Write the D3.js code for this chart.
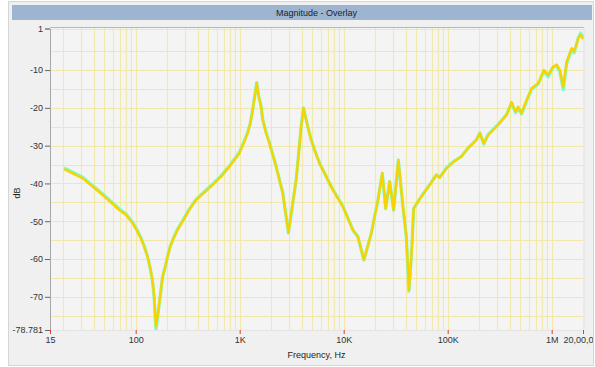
<!DOCTYPE html>
<html>
<head>
<meta charset="utf-8">
<script src="https://cdn.jsdelivr.net/npm/d3@7/dist/d3.min.js"></script>
<style>
  html, body { margin: 0; padding: 0; background: #fff; }
  svg { display: block; font-family: "Liberation Sans", Arial, sans-serif; }
  .tick text { fill: #333; font-size: 9px; }
</style>
</head>
<body>
<svg id="chart" width="595" height="367"></svg>
<script>
/* Magnitude overlay: two nearly identical FRF traces, log frequency axis. */
var freqHz = [
  20.5, 30.7, 47.9, 69.3, 80.4, 93.1, 101.7, 112, 120.7, 130,
  136.9, 143, 147.3, 150.6, 156.4, 162.1, 168.3, 174.8, 181, 192.3,
  202, 215, 235, 252.6, 282, 327.4, 380, 456.6, 549, 661.3,
  795, 888.5, 992, 1109, 1193, 1267, 1333, 1457, 1523, 1606,
  1664, 1795, 1931, 2240, 2410, 2594, 2797, 2943, 3237, 3490,
  3616, 3900, 4106, 4515, 4869, 5239, 5853, 7862, 9813, 12250,
  13690, 15640, 18420, 21330, 23520, 25310, 27650, 30210, 33540, 37140,
  40050, 42420, 44740, 47090, 55850, 67140, 77900, 83800, 97250, 112600,
  135600, 157000, 189100, 203500, 222500, 244700, 305400, 368100, 411200, 449500,
  476100, 513300, 573500, 640600, 741800, 841800, 926000, 1034000, 1116000, 1200000,
  1292000, 1392000, 1556000, 1648000, 1802000, 1900000, 2000000
];
// yellow trace (drawn on top)
var magYellow = [
  -36.2, -38.6, -43.0, -47.0, -48.3, -50.5, -52.3, -54.5, -56.7, -59.4,
  -62.0, -64.7, -67.3, -70.0, -77.8, -75.2, -71.7, -68.2, -64.7, -62.0,
  -59.4, -56.7, -54.1, -52.3, -50.1, -47.0, -44.4, -42.4, -40.4, -38.2,
  -35.6, -33.8, -32.0, -28.9, -26.7, -24.1, -20.6, -13.5, -17.0, -19.7,
  -23.2, -26.7, -29.4, -35.6, -39.1, -42.6, -48.8, -53.0, -45.2, -39.1,
  -34.7, -25.0, -20.1, -25.0, -28.5, -31.1, -34.7, -41.7, -46.1, -52.3,
  -54.1, -60.2, -53.2, -44.4, -37.3, -46.6, -39.5, -47.0, -33.8, -46.1,
  -54.1, -68.2, -59.4, -46.6, -43.5, -40.4, -37.8, -38.5, -36.0, -34.4,
  -32.9, -30.7, -28.5, -26.7, -29.4, -27.2, -24.5, -21.9, -18.5, -21.0,
  -19.7, -21.4, -17.9, -14.8, -13.5, -10.0, -11.3, -9.1, -8.5, -10.0,
  -14.4, -7.8, -4.2, -5.0, -1.6, -0.7, -1.8
];
// green trace (underneath, peeks out at the edges)
var magGreen = [
  -35.9, -38.3, -42.7, -46.7, -48.0, -50.2, -52.0, -54.3, -56.5, -59.3,
  -62.0, -64.8, -67.5, -70.5, -78.781, -75.6, -72.0, -68.4, -64.9, -62.1,
  -59.5, -56.6, -53.9, -52.1, -49.9, -46.8, -44.2, -42.2, -40.2, -38.0,
  -35.4, -33.6, -31.8, -28.7, -26.5, -23.9, -20.4, -13.3, -16.8, -19.5,
  -23.0, -26.5, -29.2, -35.4, -38.9, -42.4, -48.8, -53.1, -45.3, -39.0,
  -34.6, -24.9, -20.0, -24.9, -28.4, -31.0, -34.6, -41.6, -46.0, -52.3,
  -54.1, -60.3, -53.2, -44.4, -37.3, -46.7, -39.5, -47.1, -33.8, -46.2,
  -54.3, -68.5, -59.5, -46.6, -43.4, -40.3, -37.7, -38.4, -35.9, -34.3,
  -32.8, -30.6, -28.4, -26.6, -29.6, -27.1, -24.4, -21.8, -18.7, -21.3,
  -19.9, -21.6, -18.2, -15.1, -13.7, -10.2, -11.8, -9.2, -8.9, -10.6,
  -15.2, -8.3, -4.6, -5.4, -1.4, -0.2, -1.2
];
var xTickVals = [15, 100, 1000, 10000, 100000, 1000000, 2000000];
var xTickLabels = ["15", "100", "1K", "10K", "100K", "1M", "20,00,000"];
var yTickVals = [1, -10, -20, -30, -40, -50, -60, -70, -78.781];
var yGridVals = [1, -5, -10, -15, -20, -25, -30, -35, -40, -45, -50, -55, -60, -65, -70, -75];

(function () {
  "use strict";
  var L = 50, R = 583, T = 27.5, B = 330;
  var svg = d3.select("#chart");
  var x = d3.scaleLog().domain([15, 2000000]).range([L, R]);
  var y = d3.scaleLinear().domain([-78.781, 1]).range([B, T + 1]);

  var defs = svg.append("defs");
  defs.append("clipPath").attr("id", "panelClip").append("rect")
    .attr("x", 8).attr("y", 2).attr("width", 585).attr("height", 363);
  defs.append("clipPath").attr("id", "plotClip").append("rect")
    .attr("x", L).attr("y", T).attr("width", R - L + 1).attr("height", B - T);

  // outer panel + title bar
  svg.append("rect").attr("x", 8.5).attr("y", 1.5).attr("width", 585).attr("height", 364)
    .attr("fill", "#f0f0f0").attr("stroke", "#d6d6d6");
  svg.append("rect").attr("x", 12).attr("y", 5).attr("width", 580).attr("height", 15)
    .attr("fill", "#9db5d1");
  svg.append("text").attr("x", (L + R) / 2).attr("y", 16).attr("text-anchor", "middle")
    .attr("font-size", 9).attr("fill", "#222").text("Magnitude - Overlay");

  var g = svg.append("g").attr("clip-path", "url(#panelClip)");

  // plot background
  g.append("rect").attr("x", L).attr("y", T).attr("width", R - L).attr("height", B - T)
    .attr("fill", "#f4f4f4");

  // log grid: every 1..9 multiple of each decade
  var vGrid = [];
  for (var d = 10; d <= 1000000; d *= 10) {
    for (var k = 1; k <= 9; k++) { var v = d * k; if (v > 15 && v < 2000000) vGrid.push(v); }
  }
  var grid = g.append("g").attr("clip-path", "url(#plotClip)");
  grid.selectAll("line.v").data(vGrid).enter().append("line").attr("class", "v")
    .attr("x1", function (v) { return Math.round(x(v)) + 0.5; })
    .attr("x2", function (v) { return Math.round(x(v)) + 0.5; })
    .attr("y1", T).attr("y2", B)
    .attr("stroke", "#f2e8ac").attr("stroke-width", 1.2);
  grid.selectAll("line.h").data(yGridVals).enter().append("line").attr("class", "h")
    .attr("x1", L).attr("x2", R)
    .attr("y1", function (v) { return Math.round(y(v)) + 0.5; })
    .attr("y2", function (v) { return Math.round(y(v)) + 0.5; })
    .attr("stroke", "#f2e8ac").attr("stroke-width", 1.2);

  // frame lines
  g.append("line").attr("x1", L).attr("x2", R + 1).attr("y1", T).attr("y2", T).attr("stroke", "#b8b8b8");
  g.append("line").attr("x1", R + 1).attr("x2", R + 1).attr("y1", T).attr("y2", B).attr("stroke", "#e2e2e2");

  // traces
  var line = d3.line()
    .x(function (d) { return x(d[0]); })
    .y(function (d) { return y(d[1]); });
  var traces = g.append("g").attr("clip-path", "url(#plotClip)");
  traces.append("path").datum(d3.zip(freqHz, magGreen)).attr("d", line)
    .attr("fill", "none").attr("stroke", "#7dfcc8").attr("stroke-width", 3.2)
    .attr("stroke-linejoin", "round");
  traces.append("path").datum(d3.zip(freqHz, magYellow)).attr("d", line)
    .attr("fill", "none").attr("stroke", "#f9d300").attr("stroke-width", 2.4)
    .attr("stroke-linejoin", "round");

  // y axis
  var ya = g.append("g").attr("transform", "translate(" + L + ",0)")
    .call(d3.axisLeft(y).tickValues(yTickVals).tickSize(5).tickPadding(2)
      .tickFormat(function (v) { return String(v); }));
  ya.select(".domain").attr("stroke", "#a8a8a8");
  ya.selectAll(".tick line").attr("stroke", "#666");

  // x axis
  var xa = g.append("g").attr("transform", "translate(0," + B + ")")
    .call(d3.axisBottom(x).tickValues(xTickVals).tickSize(4).tickPadding(3)
      .tickFormat(function (v, i) { return xTickLabels[i]; }));
  xa.select(".domain").attr("stroke", "#e4e4e4");
  xa.selectAll(".tick line").attr("stroke", "#e8383a");

  // axis titles
  g.append("text").attr("x", (L + R) / 2).attr("y", 358).attr("text-anchor", "middle")
    .attr("font-size", 9).attr("fill", "#222").text("Frequency, Hz");
  g.append("text").attr("transform", "translate(20,193) rotate(-90)").attr("text-anchor", "middle")
    .attr("font-size", 9).attr("fill", "#222").text("dB");
})();
</script>
</body>
</html>
